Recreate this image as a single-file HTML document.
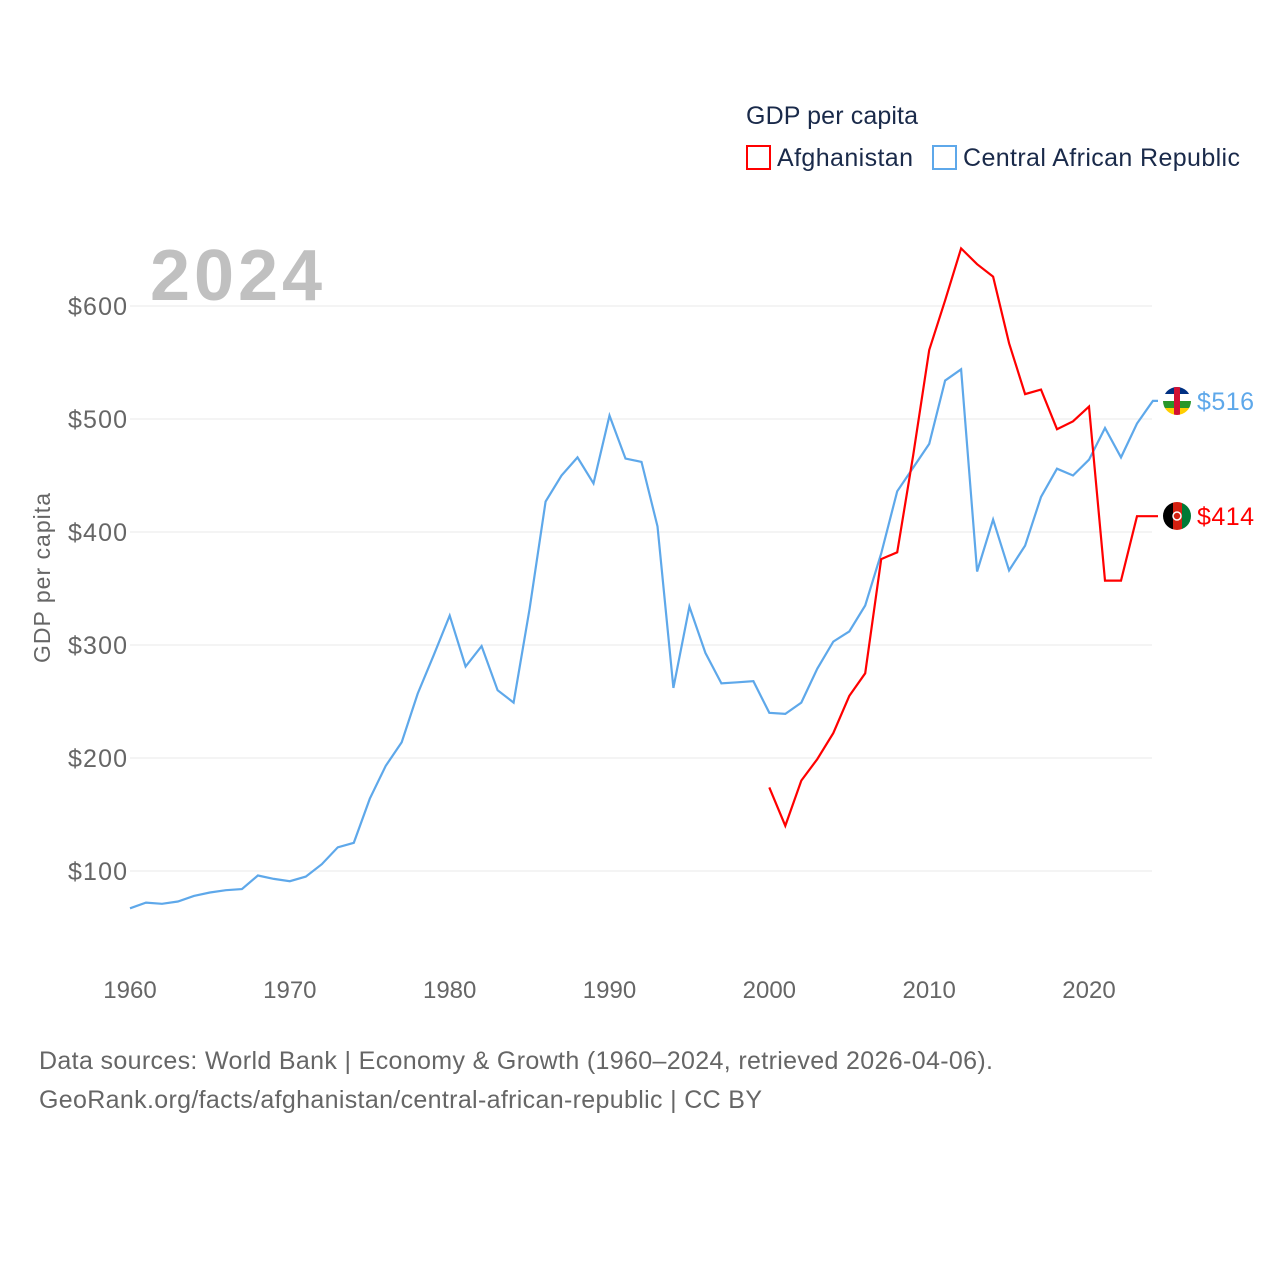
<!DOCTYPE html>
<html><head><meta charset="utf-8"><style>
body{margin:0;background:#fff;font-family:"Liberation Sans",sans-serif;}
svg text{font-family:"Liberation Sans",sans-serif;}
</style></head><body>
<svg id="chart" width="1280" height="1280" viewBox="0 0 1280 1280" xmlns="http://www.w3.org/2000/svg">
<defs>
<clipPath id="clipCar"><circle cx="1177" cy="401" r="14"/></clipPath>
<clipPath id="clipAfg"><circle cx="1177" cy="516" r="14"/></clipPath>
</defs>
<rect width="1280" height="1280" fill="#fff"/>
<text x="746" y="124" font-size="25" fill="#1a2a4a" textLength="172">GDP per capita</text>
<g><rect x="747" y="146" width="23" height="23" fill="none" stroke="#f00" stroke-width="2"/><text x="777" y="166" font-size="25" fill="#1a2a4a" textLength="136">Afghanistan</text></g>
<g><rect x="933" y="146" width="23" height="23" fill="none" stroke="#5ea8ea" stroke-width="2"/><text x="963" y="166" font-size="25" fill="#1a2a4a" textLength="277">Central African Republic</text></g>
<text x="150" y="300" font-size="72" font-weight="bold" fill="#c0c0c0" textLength="172">2024</text>
<text transform="translate(50,578) rotate(-90)" text-anchor="middle" font-size="23" fill="#666" textLength="170">GDP per capita</text>
<g id="grid"></g><g id="ticks"></g><g id="lines"></g>
<g clip-path="url(#clipCar)">
<rect x="1163" y="387" width="28" height="7" fill="#003082"/>
<rect x="1163" y="394" width="28" height="7" fill="#fff"/>
<rect x="1163" y="401" width="28" height="7" fill="#289728"/>
<rect x="1163" y="408" width="28" height="7" fill="#ffce00"/>
<rect x="1174" y="387" width="6" height="28" fill="#d21034"/>
</g>
<g clip-path="url(#clipAfg)">
<rect x="1163" y="502" width="10" height="28" fill="#000"/>
<rect x="1173" y="502" width="9" height="28" fill="#d32011"/>
<rect x="1182" y="502" width="10" height="28" fill="#007a36"/>
<circle cx="1177" cy="516" r="4" fill="none" stroke="#fff" stroke-width="1.5"/>
</g>
<text x="39" y="1069" font-size="25" fill="#666" textLength="954">Data sources: World Bank | Economy &amp; Growth (1960–2024, retrieved 2026-04-06).</text>
<text x="39" y="1108" font-size="25" fill="#666" textLength="723">GeoRank.org/facts/afghanistan/central-african-republic | CC BY</text>
</svg>
<script>
const yTicks=[100,200,300,400,500,600];
const xTicks=[1960,1970,1980,1990,2000,2010,2020];
const carYears=[];for(let y=1960;y<=2024;y++)carYears.push(y);
const carValues=[67,72,71,73,78,81,83,84,96,93,91,95,106,121,125,164,193,214,257,291,326,281,299,260,249,332,427,450,466,443,503,465,462,405,262,334,293,266,267,268,240,239,249,279,303,312,335,381,436,457,478,534,544,365,411,366,388,431,456,450,464,492,466,496,516];
const afgYears=[];for(let y=2000;y<=2024;y++)afgYears.push(y);
const afgValues=[174,140,180,199,222,255,275,376,382,468,561,605,651,637,626,567,522,526,491,498,511,357,357,414,414];
const NS="http://www.w3.org/2000/svg";
const X=yr=>130+(yr-1960)*(1089-130)/60;
const Y=v=>871-(v-100)*1.13;
function el(t,a,p){const e=document.createElementNS(NS,t);for(const k in a)e.setAttribute(k,a[k]);document.getElementById(p).appendChild(e);return e;}
yTicks.forEach(v=>{
 const g=el('line',{x1:130,x2:1152,y1:Y(v),y2:Y(v),stroke:'#e8e8e8','stroke-width':1},'grid');
 
 
 const t=el('text',{x:127,y:Y(v)+9,'text-anchor':'end','font-size':25,fill:'#666',textLength:59},'ticks');t.textContent='$'+v;
 
 
});
xTicks.forEach(v=>{
 const t=el('text',{x:X(v),y:998,'text-anchor':'middle','font-size':24,fill:'#666'},'ticks');t.textContent=v;
 
 
});
function series(yrs,vals,color,name){
 let d=yrs.map((y,i)=>(i?'L':'M')+X(y).toFixed(1)+','+Y(vals[i]).toFixed(1)).join(' ');
 const lastV=vals[vals.length-1];
 d+=' L1158,'+Y(lastV).toFixed(1);
 const p=el('path',{d:d,fill:'none',stroke:color,'stroke-width':2.2},'lines');
 
 
 const t=el('text',{x:1197,y:Y(lastV)+9,'font-size':25,fill:color,textLength:57},'lines');t.textContent='$'+lastV;
 
 
}
series(carYears,carValues,'#5ea8ea','car');
series(afgYears,afgValues,'#f00','afghanistan');
</script>
</body></html>
